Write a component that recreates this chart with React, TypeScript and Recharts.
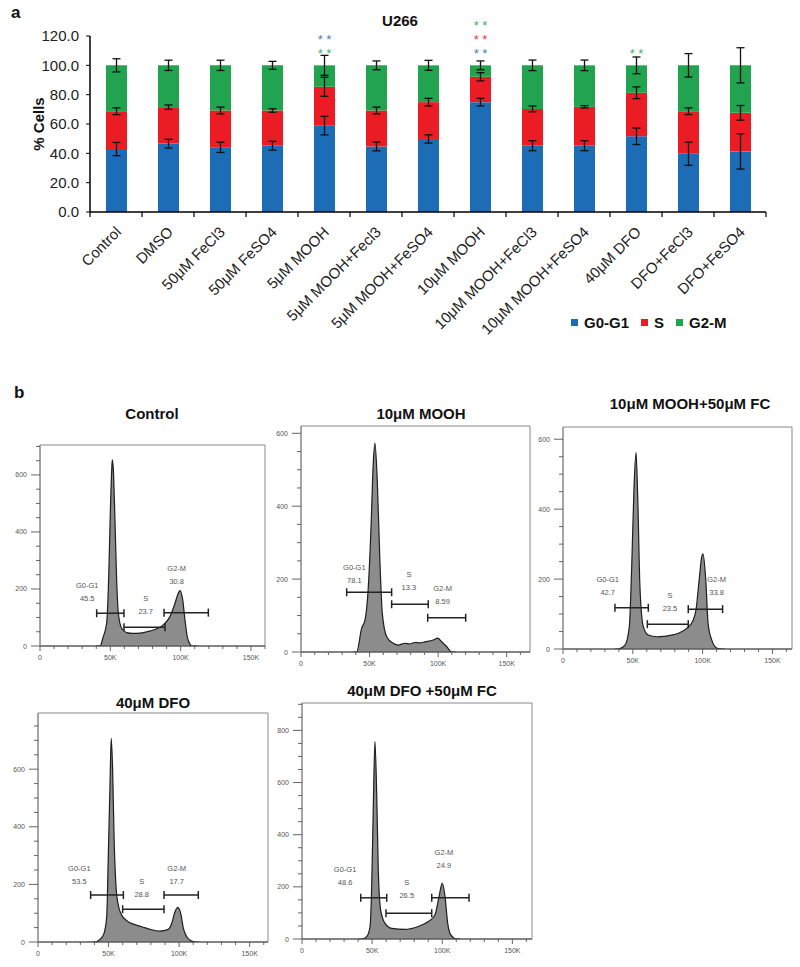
import React from "react";
import {
  BarChart,
  Bar,
  XAxis,
  YAxis,
  ErrorBar,
  Legend,
  LabelList,
  ComposedChart,
  Area,
  Scatter,
  ReferenceArea,
} from "recharts";

const FONT = '"Liberation Sans", Arial, Helvetica, sans-serif';
const BLUE = "#1c6db6";
const RED = "#ec1c24";
const GREEN = "#21a350";

// ---------- panel a: U266 cell cycle distribution ----------
const treatments = [
  "Control",
  "DMSO",
  "50μM FeCl3",
  "50μM FeSO4",
  "5μM MOOH",
  "5μM MOOH+Fecl3",
  "5μM MOOH+FeSO4",
  "10μM MOOH",
  "10μM MOOH+FeCl3",
  "10μM MOOH+FeSO4",
  "40μM DFO",
  "DFO+FeCl3",
  "DFO+FeSO4",
];
const g0g1 = [42.9, 46.6, 44.1, 45.2, 58.9, 44.7, 49.8, 74.9, 45.2, 45.2, 51.6, 39.7, 41.3];
const sPhase = [25.8, 24.9, 25.1, 24.0, 26.5, 24.5, 25.1, 17.3, 25.1, 26.5, 29.7, 29.0, 26.3];
const g2m = [31.3, 28.5, 30.8, 30.8, 14.6, 30.8, 25.1, 7.8, 29.7, 28.3, 18.7, 31.3, 32.4];
const g0g1Err = [4.5, 3.0, 3.5, 3.0, 6.3, 3.0, 2.8, 2.6, 3.4, 3.4, 5.6, 7.9, 12.0];
const sErr = [2.3, 1.5, 2.3, 1.2, 6.5, 2.3, 2.6, 2.8, 2.0, 0.8, 4.0, 2.3, 5.0];
const g2mErr = [4.5, 3.5, 3.5, 2.7, 6.8, 3.0, 3.4, 3.0, 3.6, 3.6, 5.7, 8.0, 12.0];
// significance marks, listed bottom row first
const stars: string[][] = [
  [], [], [], [],
  ["G2-M", "G0-G1"],
  [], [],
  ["G0-G1", "S", "G2-M"],
  [], [],
  ["G2-M"],
  [], [],
];
const yTicksA = [0, 20, 40, 60, 80, 100, 120];
const legendOrder = ["G0-G1", "S", "G2-M"];
const starColor: Record<string, string> = { "G0-G1": "#3f7fc0", S: "#e0404a", "G2-M": "#3bb36a" };

const barData = treatments.map((name, i) => ({
  name,
  g1: g0g1[i],
  s: sPhase[i],
  g2: g2m[i],
  g1e: g0g1Err[i],
  se: sErr[i],
  g2e: g2mErr[i],
}));

// ---------- panel b: DNA histograms (x in K, count) ----------
const controlHist = [
  [40, 0], [42.7, 0], [45, 33], [47.4, 80], [48.8, 232], [50, 466], [51, 618], [51.4, 653],
  [52.1, 623], [53.3, 442], [54.5, 232], [55.7, 115], [58.1, 62], [61.6, 47], [66, 44],
  [71.1, 45], [76, 50], [80.6, 56], [87.7, 74], [92.4, 103], [96, 150], [98.3, 185],
  [99.5, 194], [101.5, 161], [103.1, 91], [104.7, 33], [106.5, 8], [107.9, 0], [112, 0],
];
const moohHist = [
  [38, 0], [40.6, 0], [44.2, 65], [46.7, 88], [49.1, 179], [51, 335], [52.7, 518], [53.9, 573],
  [55.6, 472], [57.6, 243], [59.3, 106], [62.5, 42], [67.3, 24], [70.9, 19], [75.8, 24],
  [79, 22], [83.1, 26], [86.5, 25], [90.4, 28], [96.4, 33], [99.7, 38], [102.6, 28],
  [106.2, 15], [109.9, 0], [113, 0],
];
const moohFcHist = [
  [37, 0], [39.6, 0], [44.4, 11], [47.5, 64], [49.2, 235], [50.8, 455], [52.3, 562],
  [53.5, 436], [55.1, 178], [57.5, 64], [61.1, 40], [67.1, 35], [72, 36], [76.6, 39],
  [82.6, 45], [88.6, 59], [93.3, 83], [95.2, 111], [97.7, 205], [99.3, 262], [100.3, 272],
  [102.2, 200], [104, 69], [106.5, 26], [110, 3], [113.6, 0], [116, 0],
];
const dfoHist = [
  [38, 0], [40.4, 0], [43.9, 9], [46.8, 30], [48.7, 88], [49.8, 296], [51, 539], [51.9, 707],
  [52.9, 597], [53.9, 366], [55.3, 192], [56.9, 128], [59.3, 94], [62.9, 74], [67.5, 62],
  [73.5, 53], [79.4, 44], [86.5, 38], [92.3, 44], [94.8, 65], [97.1, 105], [99, 120],
  [101.1, 100], [103, 48], [105.4, 18], [108.9, 3], [111.3, 0], [114, 0],
];
const dfoFcHist = [
  [40, 0], [42.6, 0], [46.1, 9], [48.5, 47], [49.7, 201], [50.8, 495], [52, 757], [53.3, 546],
  [54.4, 265], [56.1, 111], [59.2, 60], [64, 41], [73.4, 37], [82.9, 48], [90.1, 67],
  [94.8, 92], [97.7, 162], [100, 214], [102, 162], [103.9, 60], [106.2, 15], [110.3, 0], [113, 0],
];

// gates: [from K, to K, height]
const controlGates = [[40.3, 59.7, 115], [59.7, 88.9, 66], [88.2, 119.7, 117]];
const moohGates = [[33.3, 66.1, 164], [66.1, 92.8, 131], [92.4, 120.1, 94]];
const moohFcGates = [[37.2, 61.1, 118], [60.4, 89.7, 71], [89.7, 114.3, 114]];
const dfoGates = [[37.3, 60.5, 163], [60, 89.3, 114], [89.3, 113.6, 163]];
const dfoFcGates = [[41.9, 60.4, 158], [59.9, 92.5, 99], [92.5, 119.1, 158]];

// gate label anchors (K, count)
const controlLabelPos = [[33.6, 212], [75.2, 167], [97.2, 273]];
const moohLabelPos = [[38.9, 231], [78.7, 213], [103.3, 173]];
const moohFcLabelPos = [[32, 199], [76.6, 152], [110, 199]];
const dfoLabelPos = [[29.3, 256], [73.5, 209], [98.3, 256]];
const dfoFcLabelPos = [[30.7, 267], [74.7, 217], [101.2, 332]];

const gateNames = ["G0-G1", "S", "G2-M"];
const pctControl = ["45.5", "23.7", "30.8"];
const pctMooh = ["78.1", "13.3", "8.59"];
const pctMoohFc = ["42.7", "23.5", "33.8"];
const pctDfo = ["53.5", "28.8", "17.7"];
const pctDfoFc = ["48.6", "26.5", "24.9"];

const panelTitles = ["Control", "10μM MOOH", "10μM MOOH+50μM FC", "40μM DFO", "40μM DFO +50μM FC"];
const xMaxK = [160, 167, 164, 163, 164];
const yMaxCount = [705, 620, 635, 795, 905];
const xTicksK = [0, 10, 20, 30, 40, 50, 60, 70, 80, 90, 100, 110, 120, 130, 140, 150, 160];
const yTicksCount = [0, 50, 100, 150, 200, 250, 300, 350, 400, 450, 500, 550, 600, 650, 700, 750, 800, 850, 900];

const panelData = [
  { hist: controlHist, gates: controlGates, pos: controlLabelPos, pct: pctControl },
  { hist: moohHist, gates: moohGates, pos: moohLabelPos, pct: pctMooh },
  { hist: moohFcHist, gates: moohFcGates, pos: moohFcLabelPos, pct: pctMoohFc },
  { hist: dfoHist, gates: dfoGates, pos: dfoLabelPos, pct: pctDfo },
  { hist: dfoFcHist, gates: dfoFcGates, pos: dfoFcLabelPos, pct: pctDfoFc },
];

// plot boxes on the page
const layouts = [
  { left: 40, top: 445, right: 265, bottom: 646, titleX: 152, titleY: 413 },
  { left: 301, top: 426, right: 530, bottom: 652, titleX: 421, titleY: 413 },
  { left: 563, top: 427, right: 792, bottom: 649, titleX: 690, titleY: 403 },
  { left: 38, top: 713, right: 268, bottom: 942, titleX: 153, titleY: 702 },
  { left: 302, top: 703, right: 532, bottom: 939, titleX: 422, titleY: 690 },
];

const StarLabel = (props: any) => {
  const { x, y, width, index } = props;
  const list = stars[index] || [];
  return (
    <g>
      {list.map((phase, i) => (
        <text
          key={i}
          x={x + width / 2}
          y={y - 7 - 14 * i}
          textAnchor="middle"
          fontSize={13}
          fontFamily={FONT}
          fill={starColor[phase]}
        >
          * *
        </text>
      ))}
    </g>
  );
};

const CatTick = (props: any) => {
  const { x, y, payload, index } = props;
  const off = payload && payload.offset ? payload.offset : 26;
  const ax = x + 6;
  const ay = y + 21;
  return (
    <g>
      <line x1={x - off} x2={x - off} y1={y} y2={y + 5} stroke="#000" strokeWidth={1.2} />
      {index === treatments.length - 1 && (
        <line x1={x + off} x2={x + off} y1={y} y2={y + 5} stroke="#000" strokeWidth={1.2} />
      )}
      <text
        x={ax}
        y={ay}
        transform={`rotate(-45 ${ax} ${ay})`}
        textAnchor="end"
        fontSize={15}
        fontFamily={FONT}
        fill="#222"
      >
        {payload.value}
      </text>
    </g>
  );
};

const LegendA = (props: any) => {
  const items = [...(props.payload || [])].sort(
    (a: any, b: any) => legendOrder.indexOf(a.value) - legendOrder.indexOf(b.value)
  );
  return (
    <div style={{ display: "flex", alignItems: "center", fontFamily: FONT, fontWeight: 700, fontSize: 15, color: "#111" }}>
      {items.map((p: any) => (
        <div key={p.value} style={{ display: "flex", alignItems: "center", marginRight: 12 }}>
          <span style={{ width: 7, height: 7, background: p.color, display: "inline-block", marginRight: 6 }} />
          {p.value}
        </div>
      ))}
    </div>
  );
};

function PanelA() {
  return (
    <BarChart
      width={800}
      height={345}
      data={barData}
      margin={{ top: 36, right: 34, left: 0, bottom: 0 }}
      barSize={21}
    >
      <XAxis
        dataKey="name"
        interval={0}
        height={133}
        tickLine={false}
        tickSize={0}
        tickMargin={0}
        axisLine={{ stroke: "#000", strokeWidth: 1.5 }}
        tick={<CatTick />}
      />
      <YAxis
        width={90}
        domain={[0, 120]}
        ticks={yTicksA}
        allowDataOverflow
        tickFormatter={(v: number) => v.toFixed(1)}
        tick={{ fontSize: 15, fill: "#222", fontFamily: FONT }}
        tickSize={4}
        tickMargin={7}
        tickLine={{ stroke: "#000" }}
        axisLine={{ stroke: "#000", strokeWidth: 1.5 }}
        label={{
          content: (p: any) => {
            const vb = p.viewBox || { y: 36, height: 176 };
            const cy = vb.y + vb.height / 2;
            return (
              <text
                x={38}
                y={cy}
                transform={`rotate(-90 38 ${cy})`}
                textAnchor="middle"
                dominantBaseline="central"
                fontSize={15}
                fontWeight={700}
                fontFamily={FONT}
                fill="#111"
              >
                % Cells
              </text>
            );
          },
        }}
      />
      <Legend
        layout="horizontal"
        verticalAlign="middle"
        align="center"
        content={<LegendA />}
        wrapperStyle={{ left: 571, top: 314, width: "auto" }}
      />
      <Bar dataKey="g1" name="G0-G1" stackId="a" fill={BLUE} isAnimationActive={false}>
        <ErrorBar dataKey="g1e" direction="y" width={4} stroke="#111" strokeWidth={1.3} />
      </Bar>
      <Bar dataKey="s" name="S" stackId="a" fill={RED} isAnimationActive={false}>
        <ErrorBar dataKey="se" direction="y" width={4} stroke="#111" strokeWidth={1.3} />
      </Bar>
      <Bar dataKey="g2" name="G2-M" stackId="a" fill={GREEN} isAnimationActive={false}>
        <ErrorBar dataKey="g2e" direction="y" width={4} stroke="#111" strokeWidth={1.3} />
        <LabelList dataKey="name" content={<StarLabel />} />
      </Bar>
    </BarChart>
  );
}

const HXTick = (props: any) => {
  const { x, y, payload } = props;
  const v = payload.value;
  const major = v % 50 === 0;
  return (
    <g>
      <line x1={x} x2={x} y1={y} y2={y + (major ? 5 : 3)} stroke="#555" strokeWidth={0.9} />
      {major && (
        <text x={x} y={y + 14} textAnchor="middle" fontSize={7} fontFamily={FONT} fill="#555">
          {v === 0 ? "0" : `${v}K`}
        </text>
      )}
    </g>
  );
};

const HYTick = (props: any) => {
  const { x, y, payload } = props;
  const v = payload.value;
  const major = v % 200 === 0;
  return (
    <g>
      <line x1={x - (major ? 9 : 4)} x2={x} y1={y} y2={y} stroke="#555" strokeWidth={0.9} />
      {major && (
        <text x={x - 13} y={y} textAnchor="end" dominantBaseline="central" fontSize={7} fontFamily={FONT} fill="#555">
          {v}
        </text>
      )}
    </g>
  );
};

const GateLabel = (props: any) => {
  const { cx, cy, payload } = props;
  return (
    <g>
      <text x={cx} y={cy} textAnchor="middle" dominantBaseline="central" fontSize={7.5} fontFamily={FONT} fill="#555">
        {payload.name}
      </text>
      <text x={cx} y={cy + 13} textAnchor="middle" dominantBaseline="central" fontSize={7.5} fontFamily={FONT} fill="#555">
        {payload.pct}
      </text>
    </g>
  );
};

function Histogram({ idx }: { idx: number }) {
  const L = layouts[idx];
  const d = panelData[idx];
  const xMax = xMaxK[idx];
  const yMax = yMaxCount[idx];
  const padTop = 6;
  const padRight = 6;
  const axisW = 40;
  const axisH = 24;
  const w = L.right - L.left + axisW + padRight;
  const h = L.bottom - L.top + padTop + axisH;
  const hist = d.hist.map(([x, y]) => ({ x, y }));
  const gates = d.gates.map(([a, b, y]) => ({ x: (a + b) / 2, y, e: (b - a) / 2 }));
  const labels = d.pos.map(([x, y], i) => ({ x, y, name: gateNames[i], pct: d.pct[i] }));
  return (
    <>
      <div
        style={{
          position: "absolute",
          left: L.titleX,
          top: L.titleY,
          transform: "translate(-50%, -50%)",
          whiteSpace: "nowrap",
          fontFamily: FONT,
          fontWeight: 700,
          fontSize: 15,
          color: "#111",
        }}
      >
        {panelTitles[idx]}
      </div>
      <div style={{ position: "absolute", left: L.left - axisW, top: L.top - padTop }}>
        <ComposedChart width={w} height={h} data={hist} margin={{ top: padTop, right: padRight, left: 0, bottom: 0 }}>
          <XAxis
            type="number"
            dataKey="x"
            domain={[0, xMax]}
            ticks={xTicksK.filter((t) => t <= xMax)}
            allowDataOverflow
            height={axisH}
            tickLine={false}
            tickSize={0}
            tickMargin={0}
            axisLine={{ stroke: "#444" }}
            tick={<HXTick />}
            interval={0}
          />
          <YAxis
            type="number"
            dataKey="y"
            domain={[0, yMax]}
            ticks={yTicksCount.filter((t) => t <= yMax)}
            allowDataOverflow
            width={axisW}
            tickLine={false}
            tickSize={0}
            tickMargin={0}
            axisLine={{ stroke: "#888" }}
            tick={<HYTick />}
            interval={0}
          />
          <ReferenceArea x1={0} x2={xMax} y1={0} y2={yMax} fill="none" stroke="#888" strokeWidth={1} ifOverflow="visible" />
          <Area
            type="monotone"
            dataKey="y"
            stroke="#1e1e1e"
            strokeWidth={1.2}
            fill="#8c8c8c"
            fillOpacity={1}
            dot={false}
            activeDot={false}
            isAnimationActive={false}
          />
          <Scatter data={gates} dataKey="y" shape={() => <g />} isAnimationActive={false}>
            <ErrorBar dataKey="e" direction="x" width={4} stroke="#222" strokeWidth={1.5} />
          </Scatter>
          <Scatter data={labels} dataKey="y" shape={<GateLabel />} isAnimationActive={false} />
        </ComposedChart>
      </div>
    </>
  );
}

export default function App() {
  return (
    <div style={{ position: "absolute", left: 0, top: 0, width: 800, height: 967, background: "#fff", fontFamily: FONT }}>
      <div style={{ position: "absolute", left: 11, top: 3, fontWeight: 700, fontSize: 17, color: "#111" }}>a</div>
      <div
        style={{
          position: "absolute",
          left: 400,
          top: 20,
          transform: "translate(-50%, -50%)",
          fontWeight: 700,
          fontSize: 15,
          color: "#111",
        }}
      >
        U266
      </div>
      <div style={{ position: "absolute", left: 0, top: 0 }}>
        <PanelA />
      </div>
      <div style={{ position: "absolute", left: 14, top: 383, fontWeight: 700, fontSize: 17, color: "#111" }}>b</div>
      {layouts.map((_, i) => (
        <Histogram key={i} idx={i} />
      ))}
    </div>
  );
}
